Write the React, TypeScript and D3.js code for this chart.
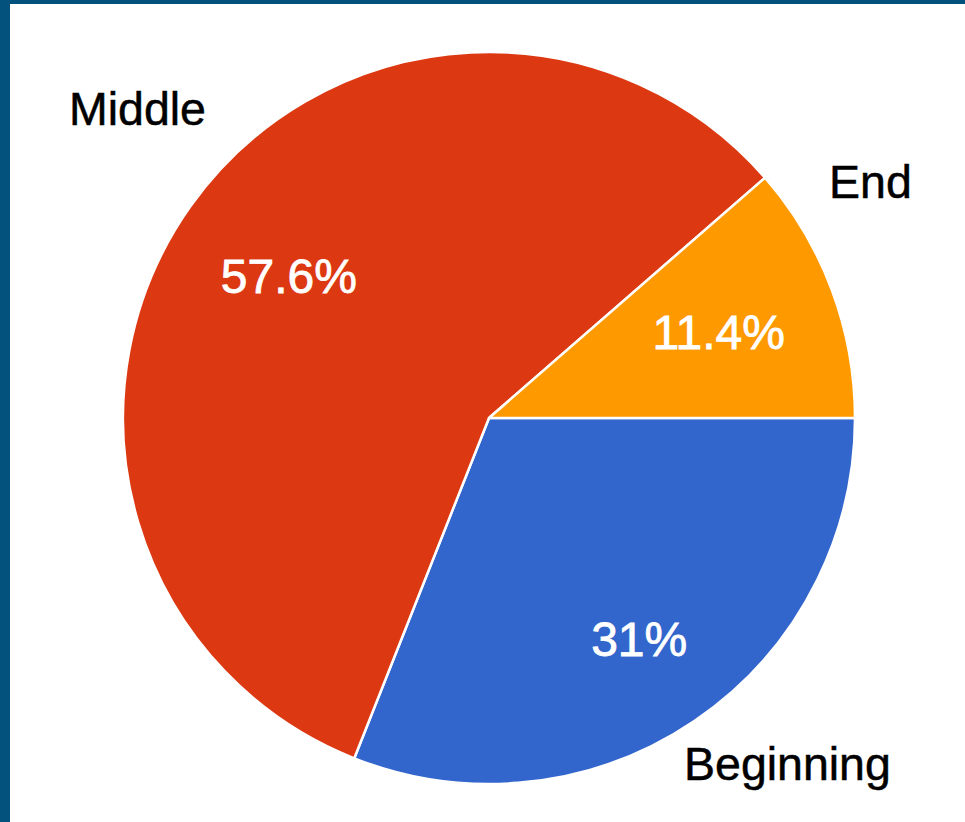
import React from "react";
import * as d3 from "d3";

const categories = ["Beginning", "Middle", "End"];
const shares = [31, 57.6, 11.4];
const percentLabels = ["31%", "57.6%", "11.4%"];
const colors = ["#3366CC", "#DC3912", "#FF9900"];

const W = 965;
const H = 822;
const cx = 489;
const cy = 418;
const R = 366;

// outside labels (layout)
const outsideLabelPos: Record<string, [number, number]> = {
  Middle: [69, 125],
  End: [829, 198],
  Beginning: [684, 780],
};
const labelRadiusFrac: Record<string, number> = {
  Beginning: 0.73,
  Middle: 0.67,
  End: 0.67,
};

export default function App() {
  const pie = d3
    .pie<number>()
    .sort(null)
    .value((d) => d)
    .startAngle(Math.PI / 2)
    .endAngle(Math.PI / 2 + 2 * Math.PI);
  const arcs = pie(shares);
  const arc = d3.arc<d3.PieArcDatum<number>>().innerRadius(0).outerRadius(R);

  return (
    <div style={{ position: "fixed", left: 0, top: 0 }}>
      <svg width={W} height={H} style={{ display: "block" }} fontFamily="'Liberation Sans', Arial, sans-serif">
        <rect x={0} y={0} width={W} height={H} fill="#ffffff" />
        <rect x={0} y={0} width={W} height={4} fill="#03527D" />
        <rect x={0} y={0} width={10} height={H} fill="#03527D" />
        <g transform={`translate(${cx},${cy})`}>
          {arcs.map((a, i) => (
            <path key={categories[i]} d={arc(a) || ""} fill={colors[i]} stroke="#ffffff" strokeWidth={2.5} strokeLinejoin="round" />
          ))}
          {arcs.map((a, i) => {
            const mid = (a.startAngle + a.endAngle) / 2;
            const rr = R * labelRadiusFrac[categories[i]];
            const x = rr * Math.sin(mid);
            const y = -rr * Math.cos(mid);
            return (
              <text
                key={"p" + i}
                x={x}
                y={y + 17}
                textAnchor="middle"
                fill="#ffffff"
                stroke="#ffffff"
                strokeWidth={0.8}
                fontSize={48}
              >
                {percentLabels[i]}
              </text>
            );
          })}
        </g>
        {categories.map((c) => (
          <text
            key={"l" + c}
            x={outsideLabelPos[c][0]}
            y={outsideLabelPos[c][1]}
            fontSize={46.5}
            fill="#000000"
            stroke="#000000"
            strokeWidth={0.5}
          >
            {c}
          </text>
        ))}
      </svg>
    </div>
  );
}
